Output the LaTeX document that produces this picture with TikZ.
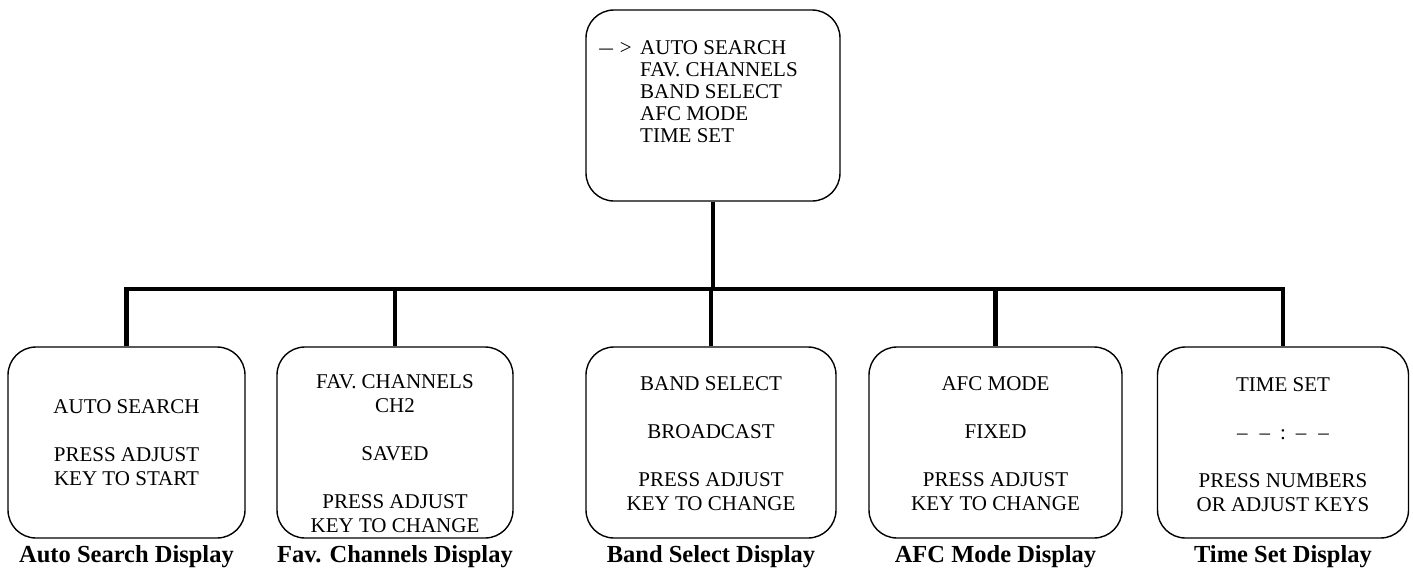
\documentclass[tikz,border=0pt]{standalone}
\usepackage{fontspec}
\setmainfont{Liberation Serif}
\begin{document}
\begin{tikzpicture}[x=1pt,y=-1pt,
  screen/.style={draw, line width=1.4pt, rounded corners=28pt, inner sep=0pt,
    minimum height=191pt},
  screentext/.style={align=center, inner sep=0pt, font=\fontsize{21}{24}\selectfont},
  menutext/.style={align=left, inner sep=0pt, font=\fontsize{21}{22}\selectfont},
  caption/.style={inner sep=0pt, anchor=base, font=\fontsize{24.5}{28}\selectfont\bfseries},
  conn/.style={line width=4.6pt}]
\useasboundingbox (0,0) rectangle (1413,571);
% top menu box
\node[screen, minimum width=254pt] (top) at (713,105.5) {};
\node[menutext, anchor=base west] (menu) at (640,142)
  {AUTO SEARCH\\FAV. CHANNELS\\BAND SELECT\\AFC MODE\\TIME SET};
\node[inner sep=0pt, anchor=base east, font=\fontsize{21}{24}\selectfont] (cursor) at (632,54) {\scalebox{1.3}[1]{–}\hspace{7pt}>};
% bottom screens
\node[screen, minimum width=237pt] (b1) at (126.5,442.5) {};
\node[screen, minimum width=236pt] (b2) at (395,442.5) {};
\node[screen, minimum width=250pt] (b3) at (711,442.5) {};
\node[screen, minimum width=253pt] (b4) at (995.5,442.5) {};
\node[screen, minimum width=251pt] (b5) at (1283,442.5) {};
\node[screentext] (t1) at (126.5,443) {AUTO SEARCH\\[24pt]PRESS ADJUST\\KEY TO START};
\node[screentext] (t2) at (395,454) {FAV. CHANNELS\\CH2\\[24pt]SAVED\\[24pt]PRESS ADJUST\\KEY TO CHANGE};
\node[screentext] (t3) at (711,444) {BAND SELECT\\[24pt]BROADCAST\\[24pt]PRESS ADJUST\\KEY TO CHANGE};
\node[screentext] (t4) at (995.5,444) {AFC MODE\\[24pt]FIXED\\[24pt]PRESS ADJUST\\KEY TO CHANGE};
\node[screentext] (t5) at (1283,445) {TIME SET\\[24pt]–\hspace{12pt}–\hspace{10pt}:\hspace{10pt}–\hspace{12pt}–\\[24pt]PRESS NUMBERS\\OR ADJUST KEYS};
% captions
\node[caption] (c1) at (126.5,562) {Auto Search Display};
\node[caption] (c2) at (395,562) {Fav. Channels Display};
\node[caption] (c3) at (711,562) {Band Select Display};
\node[caption] (c4) at (995.5,562) {AFC Mode Display};
\node[caption] (c5) at (1283,562) {Time Set Display};
% connectors
\coordinate (bus) at (712,289);
\draw[conn] (top.south) -- (top.south |- bus);
\draw[conn] (b1.north) -- (b1.north |- bus) -- (b5.north |- bus) -- (b5.north);
\draw[conn] (b2.north |- bus) -- (b2.north);
\draw[conn] (b3.north |- bus) -- (b3.north);
\draw[conn] (b4.north |- bus) -- (b4.north);
\end{tikzpicture}
\end{document}
